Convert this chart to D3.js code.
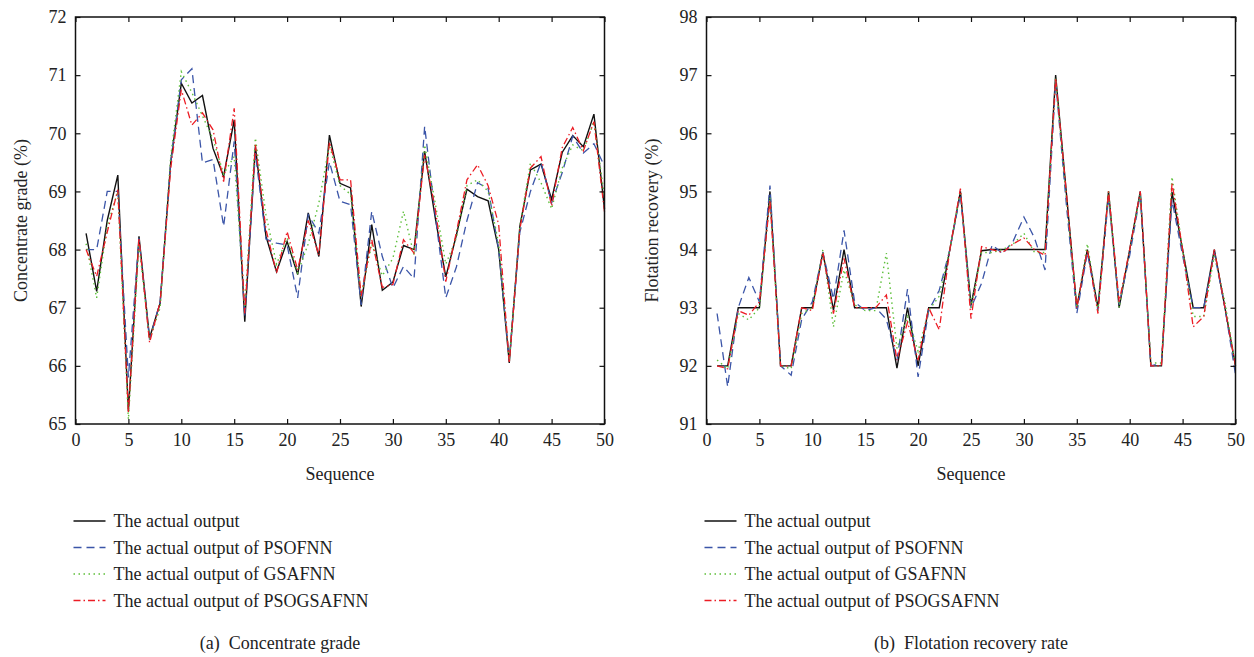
<!DOCTYPE html>
<html>
<head>
<meta charset="utf-8">
<script src="https://cdn.jsdelivr.net/npm/d3@7"></script>
<style>
  body { margin: 0; background: #fff; }
  svg text { font-family: "Liberation Serif", "DejaVu Serif", serif; fill: #222; }
</style>
</head>
<body>
<svg width="1254" height="657"></svg>
<script>
const seq = d3.range(1, 51);

// (a) concentrate grade
const gradeActual = [68.28, 67.28, 68.5, 69.28, 65.22, 68.23, 66.48, 67.08, 69.5, 70.86,
  70.52, 70.65, 69.74, 69.26, 70.23, 66.76, 69.77, 68.23, 67.62, 68.14,
  67.57, 68.63, 67.88, 69.97, 69.14, 69.06, 67.02, 68.43, 67.3, 67.44,
  68.07, 68.0, 69.69, 68.55, 67.53, 68.25, 69.04, 68.91, 68.84, 68.0,
  66.05, 68.4, 69.37, 69.47, 68.86, 69.67, 69.96, 69.77, 70.33, 68.7];
const gradePSO = [68.0, 68.0, 69.0, 69.0, 65.8, 68.2, 66.45, 67.1, 69.5, 70.92,
  71.11, 69.49, 69.55, 68.4, 69.86, 66.85, 69.66, 68.18, 68.11, 68.08,
  67.17, 68.6, 68.28, 69.51, 68.83, 68.77, 67.05, 68.66, 67.88, 67.34,
  67.71, 67.5, 70.12, 68.6, 67.17, 67.7, 68.5, 69.15, 69.05, 68.0,
  66.1, 68.3, 69.0, 69.5, 68.8, 69.32, 69.95, 69.66, 69.82, 69.43];
const gradeGSA = [68.1, 67.17, 68.4, 69.0, 65.08, 68.1, 66.45, 67.0, 69.6, 71.06,
  70.7, 70.3, 69.9, 69.3, 69.6, 67.0, 69.92, 68.6, 67.75, 68.2,
  67.6, 68.1, 68.8, 69.8, 69.1, 68.95, 67.2, 68.1, 67.55, 67.85,
  68.66, 67.9, 69.8, 68.8, 67.75, 68.2, 69.1, 69.2, 69.0, 68.1,
  66.1, 68.4, 69.49, 69.15, 68.7, 69.4, 69.8, 69.7, 70.2, 68.9];
const gradePSOGSA = [68.0, 67.54, 68.3, 69.03, 65.2, 68.2, 66.4, 67.1, 69.4, 70.75,
  70.14, 70.35, 70.06, 69.17, 70.43, 66.9, 69.8, 68.35, 67.6, 68.31,
  67.65, 68.5, 67.9, 69.85, 69.2, 69.2, 67.2, 68.17, 67.35, 67.4,
  68.17, 67.94, 69.63, 68.7, 67.45, 68.3, 69.2, 69.46, 69.1, 68.43,
  66.05, 68.35, 69.4, 69.6, 68.75, 69.75, 70.1, 69.7, 70.2, 68.65];

// (b) flotation recovery
const recovActual = [92, 92, 93, 93, 93, 95, 92, 92, 93, 93,
  93.95, 92.96, 94, 93, 93, 93, 93, 91.96, 93, 92,
  93, 93, 94, 95, 93.04, 93.98, 94, 94, 94, 94,
  94, 94, 97, 95, 93, 94, 93, 95, 93, 94,
  95, 92, 92, 94.99, 94, 93, 93, 94, 93, 92];
const recovPSO = [92.9, 91.64, 93.0, 93.52, 93.1, 95.1, 92.0, 91.84, 92.8, 93.1,
  93.95, 93.15, 94.33, 93.1, 92.95, 93.0, 92.8, 92.1, 93.32, 91.81,
  92.95, 93.3, 94.0, 94.95, 93.0, 93.42, 94.08, 93.93, 94.15, 94.56,
  94.2, 93.65, 96.9, 94.8, 92.9, 93.95, 92.95, 94.9, 93.05, 93.9,
  94.95, 92.0, 92.05, 94.85, 93.9, 93.0, 93.0, 93.95, 93.0, 91.85];
const recovGSA = [92.1, 91.95, 92.9, 92.79, 93.0, 94.9, 92.0, 91.95, 92.9, 93.0,
  94.0, 92.67, 93.65, 93.05, 92.95, 92.95, 93.94, 92.3, 92.85, 92.25,
  92.95, 93.2, 94.0, 95.0, 93.0, 93.95, 93.95, 94.0, 94.1, 94.28,
  93.95, 93.95, 96.95, 94.9, 93.0, 94.1, 92.95, 95.0, 93.0, 94.0,
  94.95, 92.05, 92.05, 95.25, 94.0, 92.85, 92.85, 93.9, 93.1, 92.0];
const recovPSOGSA = [92.0, 91.95, 92.95, 92.87, 93.1, 94.85, 92.0, 92.0, 93.0, 92.95,
  93.95, 92.9, 93.85, 93.0, 93.0, 93.0, 93.22, 92.1, 92.75, 92.1,
  93.0, 92.62, 94.0, 95.05, 92.81, 94.05, 94.0, 93.95, 94.1, 94.2,
  94.0, 93.9, 96.95, 95.0, 93.0, 94.0, 92.9, 95.0, 93.1, 94.0,
  95.0, 92.0, 92.0, 95.15, 94.0, 92.67, 92.85, 94.0, 93.0, 92.0];

const xTicks = [0, 5, 10, 15, 20, 25, 30, 35, 40, 45, 50];
const gradeTicks = [65, 66, 67, 68, 69, 70, 71, 72];
const recovTicks = [91, 92, 93, 94, 95, 96, 97, 98];
const seriesNames = ["The actual output", "The actual output of PSOFNN",
  "The actual output of GSAFNN", "The actual output of PSOGSAFNN"];

const styles = [
  { color: "#111", dash: null, width: 1.4 },
  { color: "#3b55a8", dash: "8,5", width: 1.3 },
  { color: "#5dbf3a", dash: "1.5,3.5", width: 1.4 },
  { color: "#ec1c24", dash: "7,3,1.5,3", width: 1.3 }
];

const svg = d3.select("svg");
const fmt = d3.format("d");

function drawPanel(opt) {
  const left = opt.left, top = 17, width = 529, height = 407;
  const g = svg.append("g").attr("transform", `translate(${left},${top})`);

  const x = d3.scaleLinear().domain([0, 50]).range([0, width]);
  const y = d3.scaleLinear().domain(opt.yDomain).range([height, 0]);

  const line = d3.line()
    .x((d, i) => x(seq[i]))
    .y(d => y(d));

  opt.series.forEach((s, k) => {
    g.append("path")
      .datum(s)
      .attr("fill", "none")
      .attr("stroke", styles[k].color)
      .attr("stroke-width", styles[k].width)
      .attr("stroke-dasharray", styles[k].dash)
      .attr("stroke-linejoin", "miter")
      .attr("d", line);
  });

  // box with inward ticks
  function styleAxis(a) {
    a.select(".domain").remove();
    a.selectAll(".tick line").attr("stroke", "#111").attr("stroke-width", 1.2);
    a.selectAll(".tick text")
      .style("font-family", '"Liberation Serif", serif')
      .style("font-size", "18px").attr("fill", "#222");
  }
  g.append("g").attr("transform", `translate(0,${height})`)
    .call(d3.axisBottom(x).tickValues(xTicks).tickFormat(fmt).tickSizeInner(-5).tickSizeOuter(0).tickPadding(9))
    .call(styleAxis);
  g.append("g")
    .call(d3.axisTop(x).tickValues(xTicks).tickSizeInner(-5).tickSizeOuter(0).tickFormat(""))
    .call(styleAxis);
  g.append("g")
    .call(d3.axisLeft(y).tickValues(opt.ticks).tickFormat(fmt).tickSizeInner(-5).tickSizeOuter(0).tickPadding(9))
    .call(styleAxis);
  g.append("g").attr("transform", `translate(${width},0)`)
    .call(d3.axisRight(y).tickValues(opt.ticks).tickSizeInner(-5).tickSizeOuter(0).tickFormat(""))
    .call(styleAxis);
  g.append("rect")
    .attr("width", width).attr("height", height)
    .attr("fill", "none").attr("stroke", "#111").attr("stroke-width", 1.5);

  g.append("text")
    .attr("x", width / 2).attr("y", height + 56)
    .attr("text-anchor", "middle").style("font-size", "18px")
    .text("Sequence");
  g.append("text")
    .attr("transform", `translate(${-49},${height / 2}) rotate(-90)`)
    .attr("text-anchor", "middle").style("font-size", "18px")
    .text(opt.yLabel);

  // legend
  const lg = svg.append("g").attr("transform", `translate(${left - 2},521)`);
  seriesNames.forEach((name, k) => {
    const row = lg.append("g").attr("transform", `translate(0,${k * 26.5})`);
    row.append("line")
      .attr("x1", 0).attr("x2", 32).attr("y1", 0).attr("y2", 0)
      .attr("stroke", styles[k].color)
      .attr("stroke-width", styles[k].width)
      .attr("stroke-dasharray", styles[k].dash);
    row.append("text")
      .attr("x", 40).attr("y", 6)
      .style("font-size", "18px")
      .text(name);
  });

  svg.append("text")
    .attr("x", opt.captionX).attr("y", 649)
    .attr("text-anchor", "middle").style("font-size", "18px")
    .style("white-space", "pre")
    .text(opt.caption);
}

drawPanel({
  left: 75.5,
  yDomain: [65, 72],
  ticks: gradeTicks,
  series: [gradeActual, gradePSO, gradeGSA, gradePSOGSA],
  yLabel: "Concentrate grade (%)",
  caption: "(a)  Concentrate grade",
  captionX: 280
});

drawPanel({
  left: 706.5,
  yDomain: [91, 98],
  ticks: recovTicks,
  series: [recovActual, recovPSO, recovGSA, recovPSOGSA],
  yLabel: "Flotation recovery (%)",
  caption: "(b)  Flotation recovery rate",
  captionX: 971
});
</script>
</body>
</html>
